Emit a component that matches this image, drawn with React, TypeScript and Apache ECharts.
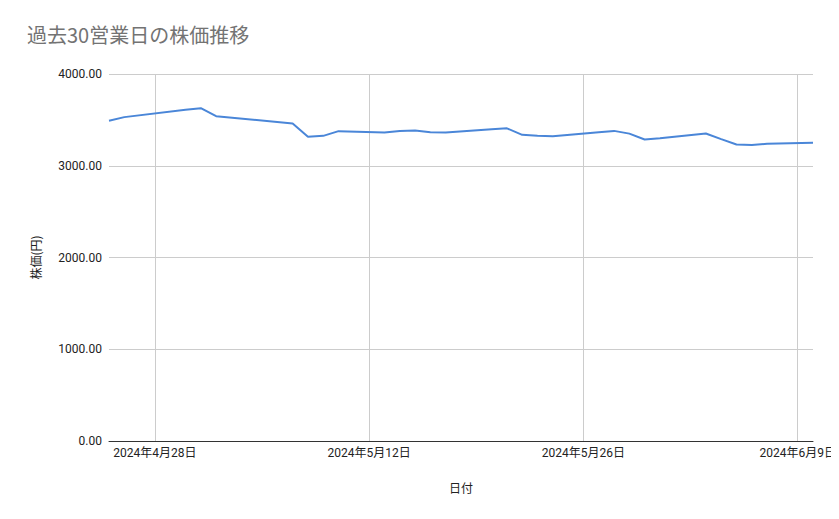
import React, { useEffect, useRef } from "react";
import * as echarts from "echarts";

const TITLE = "過去30営業日の株価推移";
const X_NAME = "日付";
const Y_NAME = "株価(円)";

const dates: string[] = [
  "2024-04-25", "2024-04-26", "2024-04-30", "2024-05-01", "2024-05-02",
  "2024-05-07", "2024-05-08", "2024-05-09", "2024-05-10", "2024-05-13",
  "2024-05-14", "2024-05-15", "2024-05-16", "2024-05-17", "2024-05-20",
  "2024-05-21", "2024-05-22", "2024-05-23", "2024-05-24", "2024-05-27",
  "2024-05-28", "2024-05-29", "2024-05-30", "2024-05-31", "2024-06-03",
  "2024-06-04", "2024-06-05", "2024-06-06", "2024-06-07", "2024-06-10",
];

const prices: number[] = [
  3490, 3530, 3610, 3627, 3540,
  3460, 3315, 3326, 3377, 3362,
  3380, 3384, 3366, 3362, 3398,
  3408, 3337, 3326, 3322, 3366,
  3380, 3350, 3286, 3301, 3351,
  3290, 3232, 3225, 3239, 3250,
];

const tickDates: string[] = ["2024-04-28", "2024-05-12", "2024-05-26", "2024-06-09"];

const X_MIN_DATE = "2024-04-25";
const X_MAX_DATE = "2024-06-10";

const Y_MIN = 0;
const Y_MAX = 4000;
const Y_INTERVAL = 1000;

const DAY_MS = 86400000;
const toDay = (d: string) => {
  const [y, m, dd] = d.split("-").map(Number);
  return Math.round(Date.UTC(y, m - 1, dd) / DAY_MS);
};
const fromDay = (n: number) => {
  const t = new Date(n * DAY_MS);
  return `${t.getUTCFullYear()}年${t.getUTCMonth() + 1}月${t.getUTCDate()}日`;
};

export default function App() {
  const ref = useRef<HTMLDivElement>(null);
  useEffect(() => {
    if (!ref.current) return;
    const chart = echarts.init(ref.current, undefined, { renderer: "svg" });
    const font = "Roboto, 'Liberation Sans', Arial, 'Noto Sans CJK JP', sans-serif";
    const tickVals = tickDates.map(toDay);
    chart.setOption({
      animation: false,
      backgroundColor: "#ffffff",
      textStyle: { fontFamily: font },
      title: {
        text: TITLE,
        left: 22,
        top: 19,
        textStyle: {
          fontFamily: "'Noto Sans CJK JP', sans-serif",
          fontSize: 20,
          fontWeight: "normal",
          color: "#737373",
        },
      },
      grid: { left: 109, right: 26, top: 74, bottom: 78, containLabel: false },
      xAxis: {
        type: "value",
        min: toDay(X_MIN_DATE),
        max: toDay(X_MAX_DATE),
        name: X_NAME,
        nameLocation: "middle",
        nameGap: 40,
        nameTextStyle: { color: "#222", fontSize: 12, fontFamily: "'Noto Sans CJK JP', sans-serif" },
        axisLine: { show: true, lineStyle: { color: "#333", width: 1 } },
        axisTick: { show: false, customValues: tickVals },
        axisLabel: {
          color: "#222",
          fontSize: 12,
          margin: 6,
          customValues: tickVals,
          formatter: (v: number) => fromDay(v),
        },
        splitLine: {
          show: true,
          lineStyle: { color: "#cccccc", width: 1 },
        },
      },
      yAxis: {
        type: "value",
        min: Y_MIN,
        max: Y_MAX,
        interval: Y_INTERVAL,
        name: Y_NAME,
        nameLocation: "middle",
        nameGap: 68,
        nameTextStyle: { color: "#222", fontSize: 12, fontFamily: "'Noto Sans CJK JP', sans-serif" },
        axisLine: { show: false },
        axisTick: { show: false },
        axisLabel: {
          color: "#222",
          fontSize: 12,
          margin: 7,
          formatter: (v: number) => v.toFixed(2),
        },
        splitLine: { show: true, lineStyle: { color: "#cccccc", width: 1 } },
      },
      series: [
        {
          type: "line",
          data: dates.map((d, i) => [toDay(d), prices[i]]),
          showSymbol: false,
          symbol: "none",
          lineStyle: { color: "#4a86d8", width: 2 },
          z: 3,
        },
      ],
    });
    return () => chart.dispose();
  }, []);
  return <div ref={ref} style={{ width: 839, height: 519, margin: -8 }} />;
}
